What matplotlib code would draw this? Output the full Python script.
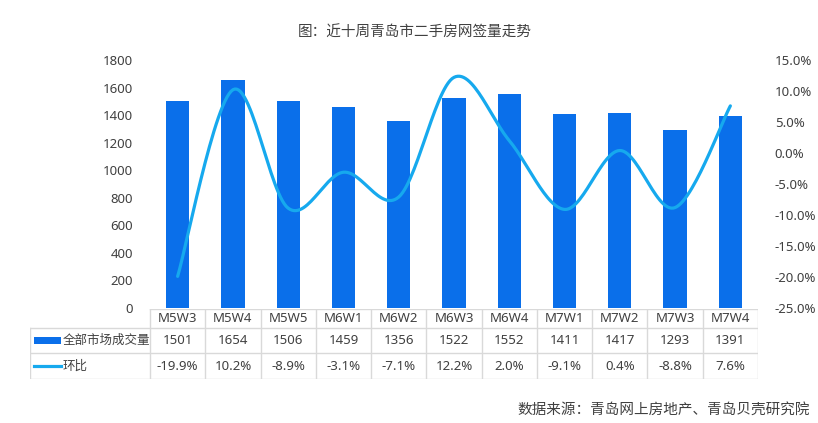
import numpy as np
import matplotlib
matplotlib.use("Agg")
import matplotlib.pyplot as plt
from matplotlib.patches import Rectangle

plt.rcParams['font.family'] = ['Noto Sans', 'Noto Sans CJK SC', 'DejaVu Sans']

weeks = ['M5W3', 'M5W4', 'M5W5', 'M6W1', 'M6W2', 'M6W3', 'M6W4', 'M7W1', 'M7W2', 'M7W3', 'M7W4']
volume = [1501, 1654, 1506, 1459, 1356, 1522, 1552, 1411, 1417, 1293, 1391]
mom = [-19.9, 10.2, -8.9, -3.1, -7.1, 12.2, 2.0, -9.1, 0.4, -8.8, 7.6]
left_ticks = [0, 200, 400, 600, 800, 1000, 1200, 1400, 1600, 1800]
right_ticks = [-25, -20, -15, -10, -5, 0, 5, 10, 15]

bar_color = '#0A6FEA'
line_color = '#16A9EE'
text_color = '#404040'
grid_color = '#D9D9D9'
cjk = ['Noto Sans CJK SC', 'DejaVu Sans']

W, H = 818, 423
fig = plt.figure(figsize=(W / 100, H / 100), dpi=100)

# plot area in pixels
x0, x1 = 150, 758
y_top, y_bot = 60, 308
ax = fig.add_axes([x0 / W, (H - y_bot) / H, (x1 - x0) / W, (y_bot - y_top) / H])
n = len(weeks)
xs = np.arange(n)
ax.bar(xs, volume, width=0.42, color=bar_color, zorder=2)
ax.set_xlim(-0.5, n - 0.5)
ax.set_ylim(0, 1800)
ax.set_yticks(left_ticks)
ax.set_xticks([])
ax.tick_params(axis='y', length=0, pad=12, labelsize=9.5, labelcolor=text_color)
for s in ax.spines.values():
    s.set_visible(False)

ax2 = ax.twinx()
ax2.set_ylim(-25, 15)
ax2.set_yticks(right_ticks)
ax2.set_yticklabels([f'{v:.1f}%' for v in right_ticks])
ax2.tick_params(axis='y', length=0, pad=12, labelsize=9.5, labelcolor=text_color)
for s in ax2.spines.values():
    s.set_visible(False)


# smoothed line like Excel (bezier through points)
def smooth(px, py, steps=30):
    pts = np.column_stack([px, py]).astype(float)
    ext = np.vstack([pts[0], pts, pts[-1]])
    out = []
    for i in range(len(pts) - 1):
        p0, p3 = ext[i + 1], ext[i + 2]
        c1 = p0 + (ext[i + 2] - ext[i]) / 6
        c2 = p3 - (ext[i + 3] - ext[i + 1]) / 6
        t = np.linspace(0, 1, steps)[:, None]
        seg = (1 - t) ** 3 * p0 + 3 * (1 - t) ** 2 * t * c1 + 3 * (1 - t) * t ** 2 * c2 + t ** 3 * p3
        out.append(seg if i == 0 else seg[1:])
    out = np.vstack(out)
    return out[:, 0], out[:, 1]


sx, sy = smooth(xs, mom)
ax2.plot(sx, sy, color=line_color, lw=2.3, solid_capstyle='round', zorder=3)

# data table under the chart
tx0, tx1 = 30, x1
t_top, t_bot = 309, 379
tax = fig.add_axes([tx0 / W, (H - t_bot) / H, (tx1 - tx0) / W, (t_bot - t_top) / H])
col_w = (x1 - x0) / n
lab_w = (x0 - tx0) / col_w
tax.set_xlim(-0.5 - lab_w, n - 0.5)
row_edges = [0, 19, 44, 70]
tax.set_ylim(70, 0)
tax.axis('off')

lw = 1.0
tax.plot([-0.5, n - 0.5], [row_edges[0]] * 2, color=grid_color, lw=lw)
for r in row_edges[1:]:
    tax.plot([-0.5 - lab_w, n - 0.5], [r, r], color=grid_color, lw=lw)
for i in range(n + 1):
    tax.plot([i - 0.5, i - 0.5], [0, 70], color=grid_color, lw=lw)
tax.plot([-0.5 - lab_w] * 2, [19, 70], color=grid_color, lw=lw)

rows_mid = [(row_edges[k] + row_edges[k + 1]) / 2 for k in range(3)]
for i in range(n):
    tax.text(i, rows_mid[0], weeks[i], ha='center', va='center', fontsize=9.5, color=text_color)
    tax.text(i, rows_mid[1], str(volume[i]), ha='center', va='center', fontsize=9.5, color=text_color)
    tax.text(i, rows_mid[2], f'{mom[i]:.1f}%', ha='center', va='center', fontsize=9.5, color=text_color)

# legend keys inside the table
kx = -0.5 - lab_w + 4 / col_w
kw = 27 / col_w
tax.add_patch(Rectangle((kx, rows_mid[1] - 3.5), kw, 7, color=bar_color, lw=0))
tax.text(kx + kw + 2 / col_w, rows_mid[1], '全部市场成交量', ha='left', va='center', fontsize=9,
         color=text_color, family=cjk)
tax.plot([kx, kx + kw], [rows_mid[2], rows_mid[2]], color=line_color, lw=2.3)
tax.text(kx + kw + 2 / col_w, rows_mid[2], '环比', ha='left', va='center', fontsize=9,
         color=text_color, family=cjk)

fig.text(415 / W, 1 - 33 / H, '图：近十周青岛市二手房网签量走势', ha='center', va='center',
         fontsize=10.5, color=text_color, family=cjk)
fig.text(810 / W, 1 - 410 / H, '数据来源：青岛网上房地产、青岛贝壳研究院', ha='right', va='center',
         fontsize=10.5, color=text_color, family=cjk)

fig.savefig('out.png', dpi=100)
